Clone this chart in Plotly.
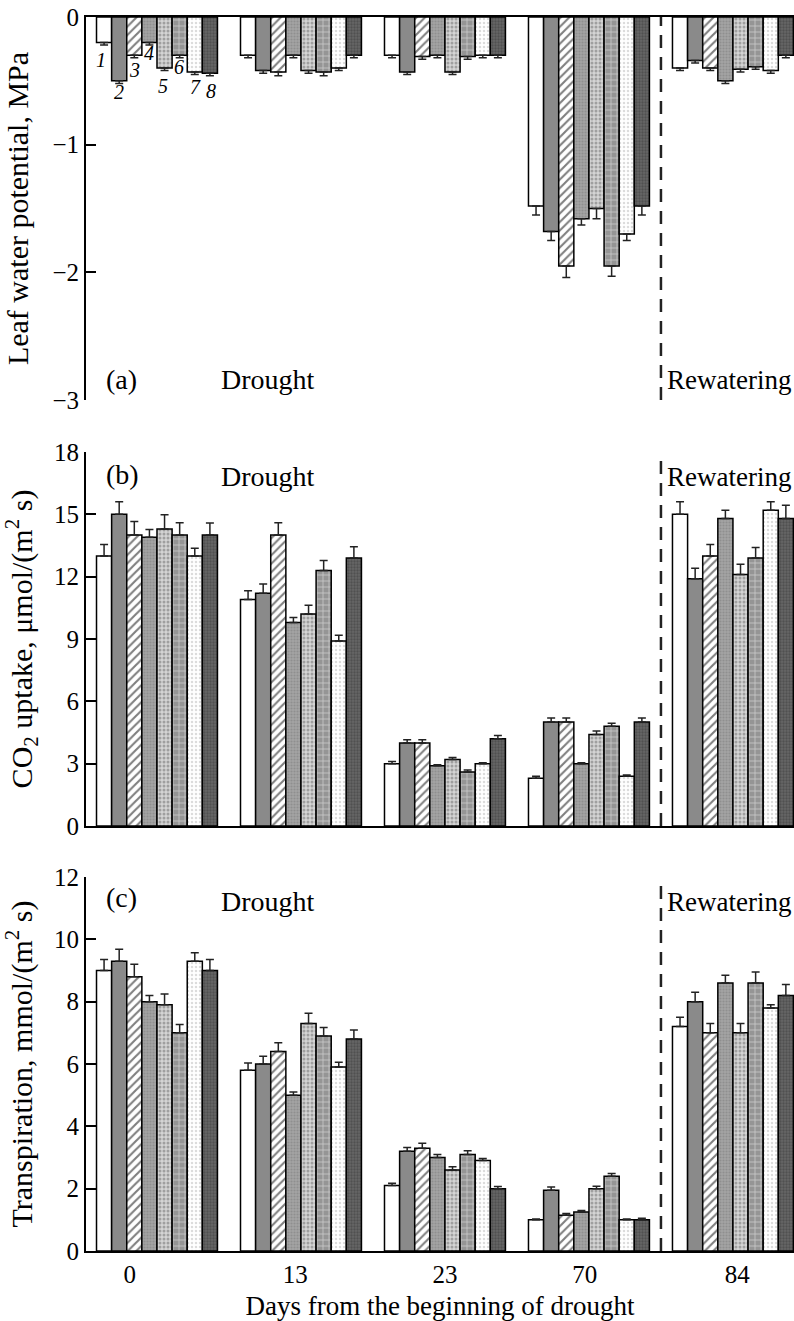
import plotly.graph_objects as go

# ---------------- data ----------------
days = ["0", "13", "23", "70", "84"]
series_ids = ["1", "2", "3", "4", "5", "6", "7", "8"]

# (a) Leaf water potential, MPa  (one list per series, over days)
lwp = [
    [-0.20, -0.30, -0.30, -1.48, -0.40],
    [-0.50, -0.42, -0.43, -1.68, -0.34],
    [-0.30, -0.43, -0.31, -1.95, -0.40],
    [-0.20, -0.30, -0.30, -1.58, -0.50],
    [-0.40, -0.42, -0.43, -1.50, -0.41],
    [-0.30, -0.43, -0.31, -1.95, -0.39],
    [-0.43, -0.40, -0.30, -1.70, -0.42],
    [-0.44, -0.30, -0.30, -1.48, -0.30],
]
lwp_err = [
    [0.02, 0.02, 0.02, 0.07, 0.02],
    [0.02, 0.02, 0.02, 0.07, 0.02],
    [0.02, 0.03, 0.02, 0.09, 0.02],
    [0.02, 0.02, 0.02, 0.05, 0.02],
    [0.02, 0.02, 0.02, 0.08, 0.02],
    [0.02, 0.03, 0.02, 0.08, 0.02],
    [0.02, 0.02, 0.02, 0.05, 0.02],
    [0.02, 0.02, 0.02, 0.07, 0.02],
]

# (b) CO2 uptake, umol/(m2 s)
co2 = [
    [13.0, 10.9, 3.0, 2.3, 15.0],
    [15.0, 11.2, 4.0, 5.0, 11.9],
    [14.0, 14.0, 4.0, 5.0, 13.0],
    [13.9, 9.8, 2.9, 3.0, 14.8],
    [14.3, 10.2, 3.2, 4.4, 12.1],
    [14.0, 12.3, 2.6, 4.8, 12.9],
    [13.0, 8.9, 3.0, 2.4, 15.2],
    [14.0, 12.9, 4.2, 5.0, 14.8],
]
co2_err = [
    [0.55, 0.42, 0.10, 0.10, 0.60],
    [0.60, 0.45, 0.15, 0.20, 0.50],
    [0.65, 0.60, 0.15, 0.20, 0.55],
    [0.37, 0.24, 0.05, 0.05, 0.40],
    [0.68, 0.43, 0.10, 0.17, 0.50],
    [0.60, 0.48, 0.10, 0.15, 0.50],
    [0.37, 0.28, 0.05, 0.05, 0.40],
    [0.58, 0.54, 0.15, 0.20, 0.64],
]

# (c) Transpiration, mmol/(m2 s)
tr = [
    [9.0, 5.8, 2.1, 1.0, 7.2],
    [9.3, 6.0, 3.2, 1.95, 8.0],
    [8.8, 6.4, 3.3, 1.15, 7.0],
    [8.0, 5.0, 3.0, 1.25, 8.6],
    [7.9, 7.3, 2.6, 2.0, 7.0],
    [7.0, 6.9, 3.1, 2.4, 8.6],
    [9.3, 5.9, 2.9, 1.0, 7.8],
    [9.0, 6.8, 2.0, 1.0, 8.2],
]
tr_err = [
    [0.35, 0.23, 0.07, 0.03, 0.30],
    [0.38, 0.25, 0.12, 0.10, 0.30],
    [0.40, 0.28, 0.16, 0.05, 0.30],
    [0.20, 0.10, 0.10, 0.05, 0.25],
    [0.35, 0.33, 0.10, 0.08, 0.30],
    [0.27, 0.27, 0.12, 0.09, 0.35],
    [0.27, 0.16, 0.07, 0.03, 0.10],
    [0.35, 0.29, 0.07, 0.05, 0.35],
]

# ---------------- styles ----------------
FONT = "Liberation Serif"
W, H = 794, 1321
xpos = list(range(len(days)))
tick_pos = [-0.19, 0.96, 2.0, 2.97, 4.03]

styles = [
    dict(color="white"),
    dict(color="#8a8a8a"),
    dict(color="white", pattern=dict(shape="/", fgcolor="black", bgcolor="white", size=6, solidity=0.35)),
    dict(color="#9c9c9c", pattern=dict(shape=".", fgcolor="#7a7a7a", bgcolor="#a4a4a4", size=3, solidity=0.4)),
    dict(color="#cfcfcf", pattern=dict(shape=".", fgcolor="#6a6a6a", bgcolor="#d4d4d4", size=4, solidity=0.45)),
    dict(color="#a0a0a0", pattern=dict(shape="+", fgcolor="white", bgcolor="#959595", size=6, solidity=0.25)),
    dict(color="white", pattern=dict(shape=".", fgcolor="#b8b8b8", bgcolor="white", size=4, solidity=0.3)),
    dict(color="#5c5c5c", pattern=dict(shape=".", fgcolor="#3a3a3a", bgcolor="#666666", size=3, solidity=0.45)),
]


def px_to_paper(py):
    return 1 - py / H


fig = go.Figure()

panels = [
    ("x", "y", lwp, lwp_err, True),
    ("x2", "y2", co2, co2_err, False),
    ("x3", "y3", tr, tr_err, False),
]
for xa, ya, vals, errs, neg in panels:
    for i, sid in enumerate(series_ids):
        st = styles[i]
        marker = dict(color=st["color"], line=dict(color="black", width=1.5))
        if "pattern" in st:
            marker["pattern"] = st["pattern"]
        if neg:
            ey = dict(type="data", symmetric=False, array=[0] * len(days), arrayminus=errs[i],
                      color="#222", thickness=1.5, width=4)
        else:
            ey = dict(type="data", symmetric=False, array=errs[i], arrayminus=[0] * len(days),
                      color="#222", thickness=1.5, width=4)
        fig.add_trace(go.Bar(x=xpos, y=vals[i], name=sid, marker=marker, error_y=ey,
                             xaxis=xa, yaxis=ya, showlegend=False))

xrange = [-0.493, 4.424]
axis_font = dict(family=FONT, size=25, color="black")
title_font = dict(family=FONT, size=30, color="black")

common_x = dict(range=xrange, showgrid=False, zeroline=False, showline=True,
                linecolor="black", linewidth=2, ticks="", domain=[0, 1],
                tickvals=tick_pos, ticktext=days, tickfont=axis_font, automargin=False)
common_y = dict(showgrid=False, zeroline=False, showline=True, linecolor="black",
                linewidth=2, ticks="inside", ticklen=10, tickwidth=2, tickcolor="black",
                tickfont=axis_font, automargin=False)

fig.update_layout(
    width=W, height=H,
    margin=dict(l=86, r=0, t=0, b=0, autoexpand=False),
    paper_bgcolor="white", plot_bgcolor="white",
    barmode="group", bargap=0.16, bargroupgap=0,
    font=dict(family=FONT, color="black"),
    xaxis=dict(common_x, anchor="y", side="top", showticklabels=False),
    yaxis=dict(common_y, anchor="x", range=[-3, 0], tickvals=[-3, -2, -1, 0],
               ticktext=["\u22123", "\u22122", "\u22121", "0"],
               domain=[px_to_paper(400), px_to_paper(17)],
               title=dict(text="Leaf water potential, MPa", font=title_font)),
    xaxis2=dict(common_x, anchor="y2", showticklabels=False),
    yaxis2=dict(common_y, anchor="x2", range=[0, 18], tickvals=[0, 3, 6, 9, 12, 15, 18],
                domain=[px_to_paper(826), px_to_paper(452)],
                title=dict(text="CO<sub>2</sub> uptake, \u03bcmol/(m<sup>2</sup> s)", font=title_font)),
    xaxis3=dict(common_x, anchor="y3",
                title=dict(text="Days from the beginning of drought",
                           font=dict(family=FONT, size=27, color="black"))),
    yaxis3=dict(common_y, anchor="x3", range=[0, 12], tickvals=[0, 2, 4, 6, 8, 10, 12],
                domain=[px_to_paper(1251), px_to_paper(877)],
                title=dict(text="Transpiration, mmol/(m<sup>2</sup> s)", font=title_font)),
)

# dashed separator between drought and rewatering
for ya in ["y", "y2", "y3"]:
    fig.add_shape(type="line", xref="x" if ya == "y" else "x" + ya[1:], yref=ya + " domain",
                  x0=3.5, x1=3.5, y0=0, y1=1,
                  line=dict(color="#222", width=2.5, dash="13px,9px"))

ann_font = dict(family=FONT, size=28, color="black")
rew_font = dict(family=FONT, size=27, color="black")
panel_text = [
    ("x", "y", "(a)", -2.84, "Drought", "Rewatering", -2.84),
    ("x2", "y2", "(b)", 16.9, "Drought", "Rewatering", 16.8),
    ("x3", "y3", "(c)", 11.35, "Drought", "Rewatering", 11.2),
]
for xa, ya, lab, ylab, t1, t2, yt in panel_text:
    fig.add_annotation(xref=xa, yref=ya, x=-0.37, y=ylab, text=lab, showarrow=False,
                       xanchor="left", yanchor="middle", font=ann_font)
    fig.add_annotation(xref=xa, yref=ya, x=0.43, y=yt, text=t1, showarrow=False,
                       xanchor="left", yanchor="middle", font=ann_font)
    fig.add_annotation(xref=xa, yref=ya, x=3.53, y=yt, text=t2, showarrow=False,
                       xanchor="left", yanchor="middle", font=rew_font)

# italic series numbers under day-0 bars of panel (a)
num_pos = [(-0.389, -0.337), (-0.264, -0.587), (-0.153, -0.415), (-0.056, -0.282),
           (0.042, -0.54), (0.153, -0.39), (0.264, -0.548), (0.375, -0.58)]
for sid, (nx, ny) in zip(series_ids, num_pos):
    fig.add_annotation(xref="x", yref="y", x=nx, y=ny, text="<i>" + sid + "</i>",
                       showarrow=False, font=dict(family=FONT, size=20, color="black"))

fig.write_html("out.html", config={"displayModeBar": False},
               post_script="document.body.style.margin='0';document.body.style.padding='0';")
